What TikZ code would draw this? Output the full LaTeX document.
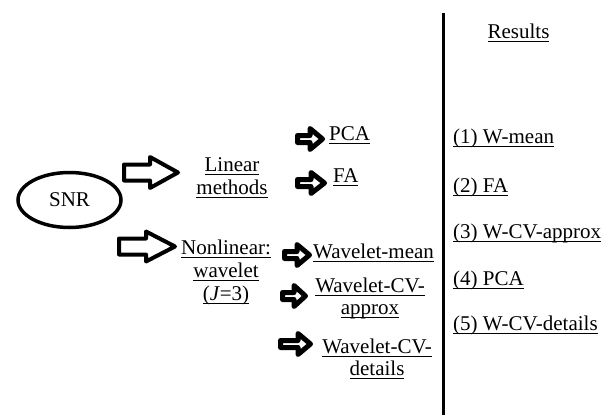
\documentclass[tikz,border=0pt]{standalone}
\usepackage{fontspec}
\setmainfont{Liberation Serif}
\newcommand{\ulx}[1]{\setbox0\hbox{#1}\rlap{\rule[-4pt]{\wd0}{1.3pt}}\box0}
\newcommand{\blockarr}[7]{%
  \draw[line width=#7, line join=round] (#1,#3-#5) -- (#6,#3-#5) -- (#6,#3-#4) -- (#2,#3) -- (#6,#3+#4) -- (#6,#3+#5) -- (#1,#3+#5) -- cycle;}
\begin{document}
\begin{tikzpicture}[x=1pt,y=-1pt,
  txt/.style={inner sep=0pt, font=\fontsize{21}{23}\selectfont, align=center}]
\useasboundingbox (0,0) rectangle (614,415);
% SNR
\draw[line width=3.5pt] (69.5,200) ellipse [x radius=51.5, y radius=27.5];
\node[txt, anchor=base] (snr) at (69.5,206) {SNR};
% big arrows
\blockarr{124}{178}{172.5}{15.5}{8}{150}{4pt}
\blockarr{119}{175}{246.5}{15}{8}{146}{4pt}
% first level (base anchor = last line)
\node[txt, anchor=base] (lin) at (232,194) {\ulx{Linear}\\\ulx{methods}};
\node[txt, anchor=base] (nonlin) at (226,300) {\ulx{Nonlinear:}\\\ulx{wavelet}\\\ulx{(\textit{J}=3)}};
% small arrows
\blockarr{297.5}{322.5}{139}{10.5}{3.5}{310}{5pt}
\blockarr{297.5}{324.5}{183}{10.5}{3.5}{311}{5pt}
\blockarr{284.5}{309.5}{255}{10.5}{3.5}{297}{5pt}
\blockarr{282.5}{305.5}{296}{10.5}{3.5}{294}{5pt}
\blockarr{280.5}{310.5}{344}{10.5}{3.5}{298}{5pt}
% second level
\node[txt, anchor=base west] (pca) at (329,140) {\ulx{PCA}};
\node[txt, anchor=base west] (fa) at (333,182) {\ulx{FA}};
\node[txt, anchor=base west] (wmean) at (313,258) {\ulx{Wavelet-mean}};
\node[txt, anchor=base, font=\fontsize{21}{22}\selectfont] (wcva) at (370,314) {\ulx{Wavelet-CV-}\\\ulx{approx}};
\node[txt, anchor=base, font=\fontsize{21}{22}\selectfont] (wcvd) at (377,375) {\ulx{Wavelet-CV-}\\\ulx{details}};
% separator
\coordinate (vtop) at (443,13);
\coordinate (vbot) at (443,415);
\draw[line width=3pt] (vtop) -- (vbot);
% results
\node[txt, anchor=base] (res) at (518.5,38) {\ulx{Results}};
\node[txt, anchor=base west] (r1) at (453,143) {\ulx{(1) W-mean}};
\node[txt, anchor=base west] (r2) at (453,192) {\ulx{(2) FA}};
\node[txt, anchor=base west] (r3) at (453,238) {\ulx{(3) W-CV-approx}};
\node[txt, anchor=base west] (r4) at (453,285) {\ulx{(4) PCA}};
\node[txt, anchor=base west] (r5) at (453,330) {\ulx{(5) W-CV-details}};
\end{tikzpicture}
\end{document}
